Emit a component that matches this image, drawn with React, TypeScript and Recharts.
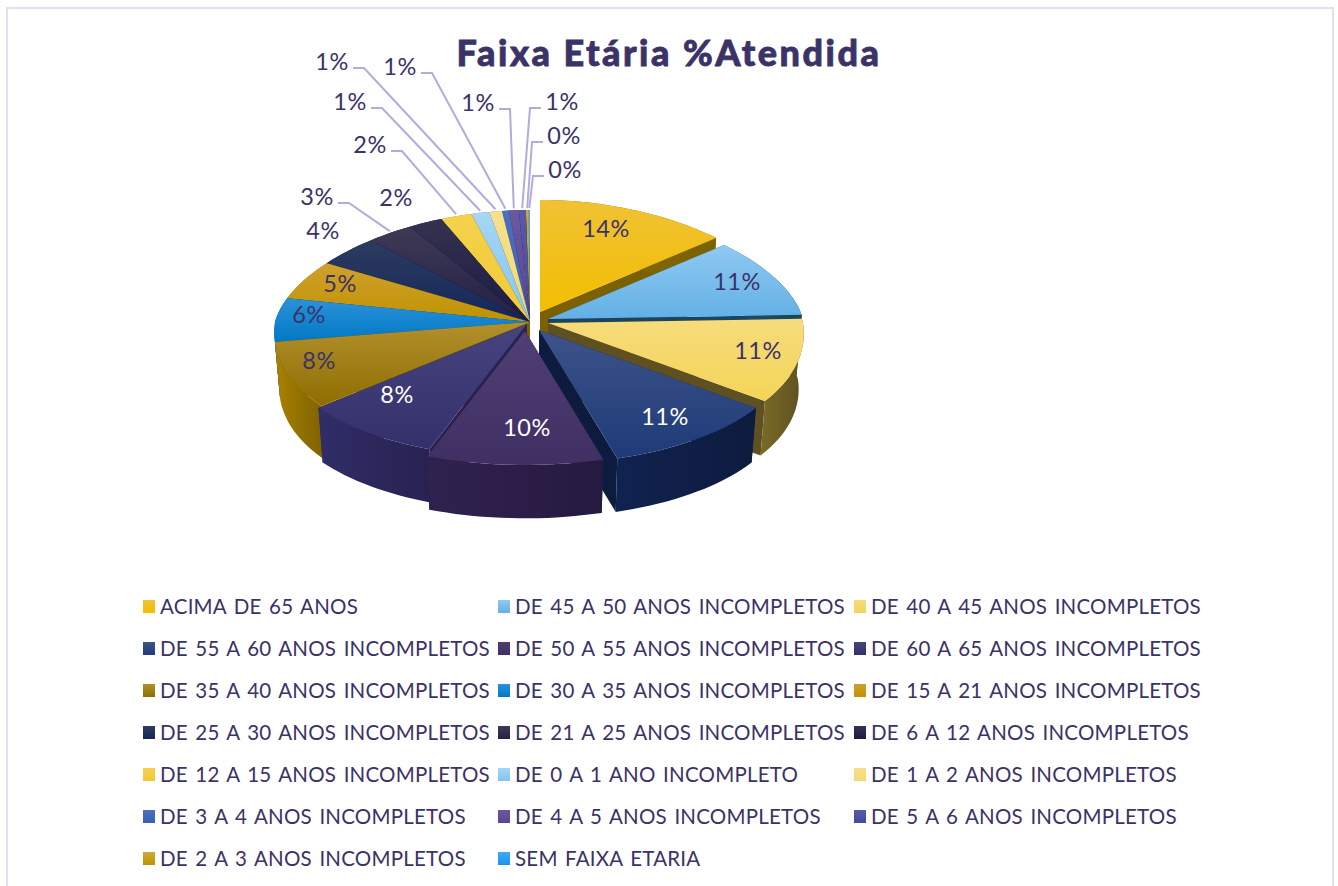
import { Legend, Pie, PieChart } from "recharts";

const categories = [
  "ACIMA DE 65 ANOS",
  "DE 45 A 50 ANOS INCOMPLETOS",
  "DE 40 A 45 ANOS INCOMPLETOS",
  "DE 55 A 60 ANOS INCOMPLETOS",
  "DE 50 A 55 ANOS INCOMPLETOS",
  "DE 60 A 65 ANOS INCOMPLETOS",
  "DE 35 A 40 ANOS INCOMPLETOS",
  "DE 30 A 35 ANOS INCOMPLETOS",
  "DE 15 A 21 ANOS INCOMPLETOS",
  "DE 25 A 30 ANOS INCOMPLETOS",
  "DE 21 A 25 ANOS INCOMPLETOS",
  "DE 6 A 12 ANOS INCOMPLETOS",
  "DE 12 A 15 ANOS INCOMPLETOS",
  "DE 0 A 1 ANO INCOMPLETO",
  "DE 1 A 2 ANOS INCOMPLETOS",
  "DE 3 A 4 ANOS INCOMPLETOS",
  "DE 4 A 5 ANOS INCOMPLETOS",
  "DE 5 A 6 ANOS INCOMPLETOS",
  "DE 2 A 3 ANOS INCOMPLETOS",
  "SEM FAIXA ETARIA",
];

// the labels only give whole percents
const shares = [
  13.5, 10.9, 10.5, 10.5, 10.4, 8.4, 8.4, 5.8, 5.4, 4.2, 3.2, 2.4, 2.2, 1.3,
  0.9, 0.5, 0.7, 0.5, 0.2, 0.1,
];

const topLight = [
  "#f0c234", "#8fc9f1", "#f6dc7c", "#3e5389", "#503f74", "#46437e", "#b2912e",
  "#2c92da", "#d0a02e", "#2c3c60", "#3e3a54", "#353250", "#f4d24c", "#a6d6f5",
  "#f6e08c", "#4c6ebe", "#6c57a2", "#555aaa", "#d0a93c", "#41aaf5",
];
const topDark = [
  "#f2be02", "#63b0e6", "#f4d458", "#1e3b78", "#3f2f63", "#33306c", "#8e6d00",
  "#0078c4", "#bf9300", "#14265a", "#231f48", "#1a1a44", "#f2c838", "#84c5f0",
  "#f4d870", "#3a60b0", "#5a4590", "#454a98", "#bb9500", "#1a95ec",
];
const wallLeft = [
  "#8a6c00", "#1e4e6e", "#7a6a28", "#102250", "#30224f", "#302d68", "#a98200",
  "#005c96", "#8e6e00", "#0f1d44", "#1a1736", "#141434", "#a88c20", "#5c8fb2",
  "#ab9850", "#28437c", "#3e3064", "#30346c", "#836800", "#126aa8",
];
const wallRight = [
  "#7c6100", "#1a4460", "#5e5020", "#0d1b3e", "#261940", "#272250", "#7d6000",
  "#004c7e", "#7c6000", "#0c1838", "#15122c", "#10102a", "#94781a", "#4e7a98",
  "#958444", "#223a6a", "#352956", "#292c5c", "#705a00", "#0f5a90",
];

const table = categories.map((name, idx) => ({
  name,
  idx,
  value: shares[idx],
  fill: topDark[idx],
}));

const CX = 530;
const CY = 322;
const RX = 255;
const RY_BACK = 112;
const RY_FRONT = 134;
const DEPTH = 56;
const BOTTOM_SHRINK = 0.98;
const PERSP_BACK = 0.12;
const PERSP_FRONT = 0.08;

// how far each slice was pulled out of the pie
const explode: [number, number][] = [
  [10, -10], [18, -3], [18, 1], [9, 8], [-5, 9], [-3, 2], [0, 0], [0, 0],
  [0, 0], [0, 0], [0, 0], [0, 0], [0, 0], [0, 0], [0, 0], [0, 0], [0, 0],
  [0, 0], [0, 0], [0, 0],
];

// painter's order, back of the pie first
const drawOrder = [19, 18, 17, 16, 15, 14, 13, 12, 11, 10, 9, 8, 7, 6, 5, 0, 1, 2, 3, 4];

// excel style hand placed labels: text centre, then leader side
const labelSpots: [number, number, number][] = [
  [606, 228, 0], [737, 281, 0], [758, 350, 0], [665, 416, 0], [527, 427, 0],
  [397, 394, 0], [319, 360, 0], [309, 314, 0], [340, 283, 0], [323, 230, 0],
  [317, 196, -1], [396, 197, 0], [370, 144, -1], [350, 101, -1], [332, 61, -1],
  [400, 66, -1], [478, 102, -1], [562, 101, 1], [564, 135, 1], [565, 169, 1],
];
const whiteLabels = [3, 4, 5];

const INK = "#3b3268";
const FONT = "Lato, sans-serif";

const legendCols = [143, 498, 854];
const legendTop = 606;
const legendStep = 42;

function rim(deg: number, r: number, off: [number, number], z = 0) {
  const a = (deg * Math.PI) / 180;
  const s = Math.sin(a);
  const ry = s > 0 ? RY_BACK : RY_FRONT;
  const widen = s > 0 ? 1 - PERSP_BACK * s : 1 - PERSP_FRONT * s;
  return {
    x: CX + off[0] + r * Math.cos(a) * widen,
    y: CY + off[1] - ry * (r / RX) * s + z,
  };
}

const toPath = (pts: { x: number; y: number }[]) =>
  pts.map((p, i) => `${i ? "L" : "M"}${p.x.toFixed(1)} ${p.y.toFixed(1)}`).join(" ") + " Z";

function sliceShape(only: number) {
  return (props: any) => {
    const idx = props.payload?.idx ?? props.idx;
    if (idx !== only) return <g />;
    const { startAngle, endAngle, outerRadius } = props;
    const off = explode[idx];
    const steps = Math.max(2, Math.ceil(Math.abs(startAngle - endAngle) / 2));
    const top = [];
    const bottom = [];
    for (let i = 0; i <= steps; i++) {
      const deg = startAngle + ((endAngle - startAngle) * i) / steps;
      top.push(rim(deg, outerRadius, off));
      bottom.push(rim(deg, outerRadius * BOTTOM_SHRINK, off, DEPTH));
    }
    const tip = rim(0, 0, off);
    const tipLow = rim(0, 0, off, DEPTH);
    const wall = toPath([...top, ...bottom.slice().reverse()]);
    const faceA = toPath([tip, top[0], bottom[0], tipLow]);
    const faceB = toPath([tip, top[steps], bottom[steps], tipLow]);
    return (
      <g>
        <path d={faceA} fill={wallRight[idx]} />
        <path d={faceB} fill={wallRight[idx]} />
        <path d={wall} fill={`url(#wall${idx})`} />
        <path d={toPath([tip, ...top])} fill={`url(#top${idx})`} />
      </g>
    );
  };
}

function pctLabel(props: any) {
  const idx = props.payload?.idx ?? props.index;
  const [x, y] = labelSpots[idx];
  return (
    <text
      x={x}
      y={y}
      textAnchor="middle"
      dominantBaseline="central"
      fontFamily={FONT}
      fontSize={23.5}
      letterSpacing={0.5}
      fill={whiteLabels.includes(idx) ? "#ffffff" : INK}
    >
      {Math.round(props.value)}%
    </text>
  );
}

function leaderLine(props: any) {
  const idx = props.payload?.idx ?? props.index;
  const [x, y, side] = labelSpots[idx];
  if (!side) return <g />;
  const startX = x - side * 21;
  const elbowX = startX - side * 11;
  const end = rim(props.midAngle, RX, explode[idx], -2);
  return (
    <path
      d={`M${startX} ${y + 7} L${elbowX} ${y + 7} L${end.x.toFixed(1)} ${end.y.toFixed(1)}`}
      fill="none"
      stroke="#b3acdb"
      strokeWidth={2}
    />
  );
}

function LegendBlock() {
  return (
    <div style={{ position: "relative", width: 1338, height: 290 }}>
      {categories.map((name, i) => {
        const col = i % 3;
        const row = Math.floor(i / 3);
        const y = legendTop - 590 + row * legendStep;
        return (
          <div key={name}>
            <div
              style={{
                position: "absolute",
                left: legendCols[col],
                top: y - 6,
                width: 12,
                height: 13,
                background: `linear-gradient(${topLight[i]}, ${topDark[i]})`,
              }}
            />
            <div
              style={{
                position: "absolute",
                left: legendCols[col] + 17,
                top: y - 14,
                height: 28,
                lineHeight: "28px",
                fontFamily: FONT,
                fontSize: 20.5,
                letterSpacing: 0.22,
                color: INK,
                whiteSpace: "nowrap",
                wordSpacing: 2,
              }}
            >
              {name}
            </div>
          </div>
        );
      })}
    </div>
  );
}

export default function App() {
  return (
    <div
      style={{
        position: "absolute",
        left: 0,
        top: 0,
        width: 1338,
        height: 886,
        background: "#fff",
        overflow: "hidden",
      }}
    >
      <div
        style={{
          position: "absolute",
          left: 6,
          top: 7,
          width: 1324,
          height: 900,
          border: "2px solid #e1e0f0",
          pointerEvents: "none",
        }}
      />
      <PieChart width={1338} height={886} margin={{ top: 0, right: 0, bottom: 0, left: 0 }}>
        <defs>
          {categories.map((_, i) => (
            <linearGradient key={i} id={`top${i}`} x1="0" y1="0" x2="0" y2="1">
              <stop offset="0%" stopColor={topLight[i]} />
              <stop offset="100%" stopColor={topDark[i]} />
            </linearGradient>
          ))}
          {categories.map((_, i) => (
            <linearGradient key={i} id={`wall${i}`} x1="0" y1="0" x2="1" y2="0">
              <stop offset="0%" stopColor={wallLeft[i]} />
              <stop offset="100%" stopColor={wallRight[i]} />
            </linearGradient>
          ))}
        </defs>
        <text
          x={669}
          y={52}
          textAnchor="middle"
          dominantBaseline="central"
          fontFamily={FONT}
          fontWeight={900}
          fontSize={36}
          letterSpacing={2.5}
          fill={INK}
          stroke={INK}
          strokeWidth={0.8}
        >
          Faixa Etária %Atendida
        </text>
        {drawOrder.map((i) => {
          const shape = sliceShape(i);
          return (
            <Pie
              key={i}
              data={table}
              dataKey="value"
              nameKey="name"
              cx={CX}
              cy={CY}
              outerRadius={RX}
              startAngle={90}
              endAngle={-270}
              stroke="none"
              legendType="none"
              isAnimationActive={false}
              shape={shape}
              activeShape={shape}
              inactiveShape={shape}
            />
          );
        })}
        <Pie
          data={table}
          dataKey="value"
          nameKey="name"
          cx={CX}
          cy={CY}
          outerRadius={RX}
          startAngle={90}
          endAngle={-270}
          stroke="none"
          legendType="none"
          isAnimationActive={false}
          shape={() => <g />}
          activeShape={() => <g />}
          inactiveShape={() => <g />}
          label={pctLabel}
          labelLine={leaderLine}
        />
        <Legend
          content={() => <LegendBlock />}
          wrapperStyle={{ position: "absolute", left: 0, top: 590, width: 1338, height: 290 }}
        />
      </PieChart>
    </div>
  );
}
